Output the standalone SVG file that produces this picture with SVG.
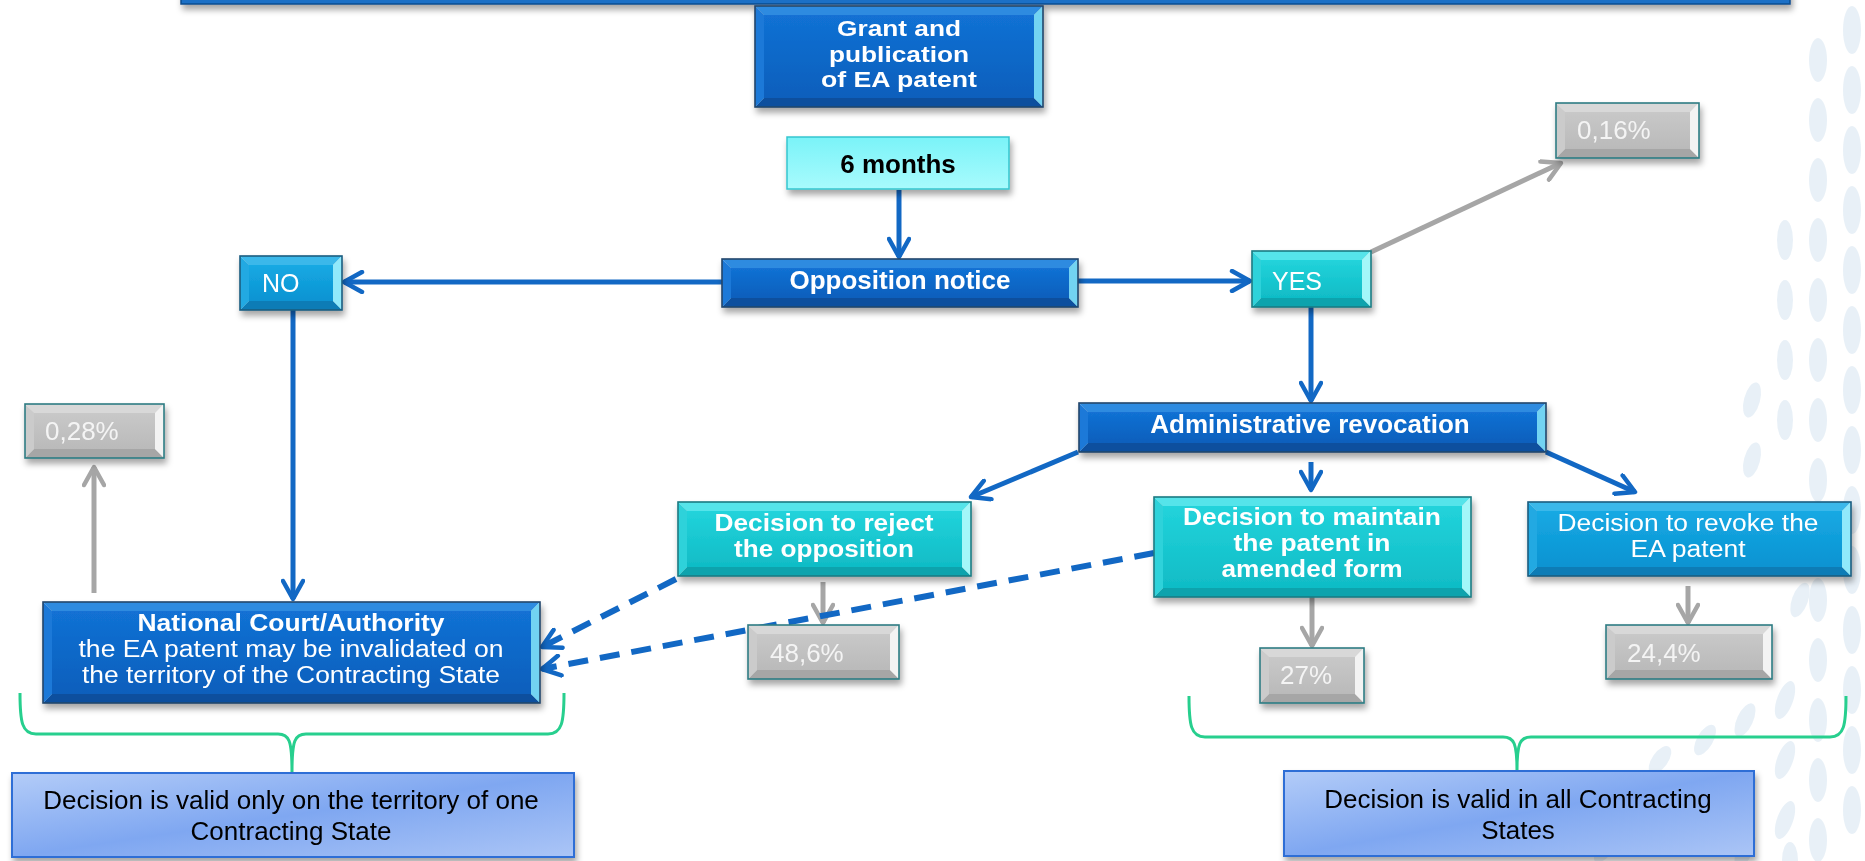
<svg xmlns="http://www.w3.org/2000/svg" width="1865" height="861" viewBox="0 0 1865 861">
<style>
text{font-family:"Liberation Sans",Arial,sans-serif;}
.w{fill:#ffffff;font-size:26px;}
.s{font-size:23px;}
.b{font-weight:bold;}
.pc{fill:#f4f4f4;font-size:26px;}
.blk{fill:#000000;font-size:26px;}
.mid{text-anchor:middle;}
.dark .t{fill:#2f8be0}.dark .bo{fill:#0a4f9e}.dark .l{fill:#1b79d8}.dark .r{fill:#72d3f2}.dark .f{fill:url(#gDark)}.dark .o{stroke:#23466b}
.med .t{fill:#3ab8ea}.med .bo{fill:#0a7cb6}.med .l{fill:#22a9e2}.med .r{fill:#90e9fb}.med .f{fill:url(#gMed)}.med .o{stroke:#1b5d80}
.cy .t{fill:#55e4ea}.cy .bo{fill:#0ea3ad}.cy .l{fill:#2dd2da}.cy .r{fill:#a3f7f9}.cy .f{fill:url(#gCy)}.cy .o{stroke:#1d7b83}
.gr .t{fill:#d8d8d8}.gr .bo{fill:#a6a6a6}.gr .l{fill:#cbcbcb}.gr .r{fill:#f3f3f3}.gr .f{fill:url(#gGr)}.gr .o{stroke:#2e7c84}
.o{fill:none;stroke-width:1.6;}
.node{filter:url(#sh);}
.cb{fill:none;stroke:#1268c4;stroke-width:5;marker-end:url(#ab);}
.cg{fill:none;stroke:#a6a6a6;stroke-width:5;marker-end:url(#ag);}
.cd{fill:none;stroke:#1268c4;stroke-width:6;stroke-dasharray:20 12;marker-end:url(#ab);}
.br{fill:none;stroke:#27cf8e;stroke-width:3;}
.deco ellipse{fill:#c9dcec;}
</style>
<defs>
<filter id="sh" x="-10%" y="-20%" width="125%" height="160%">
<feDropShadow dx="2" dy="5" stdDeviation="3" flood-color="#000" flood-opacity="0.35"/>
</filter>
<linearGradient id="gDark" x1="0" y1="0" x2="0" y2="1"><stop offset="0" stop-color="#1271d4"/><stop offset="1" stop-color="#0a5fbc"/></linearGradient>
<linearGradient id="gMed" x1="0" y1="0" x2="0" y2="1"><stop offset="0" stop-color="#16a9e3"/><stop offset="1" stop-color="#0b93d2"/></linearGradient>
<linearGradient id="gCy" x1="0" y1="0" x2="0" y2="1"><stop offset="0" stop-color="#22d3db"/><stop offset="1" stop-color="#10bcc6"/></linearGradient>
<linearGradient id="gGr" x1="0" y1="0" x2="0" y2="1"><stop offset="0" stop-color="#c8c8c8"/><stop offset="1" stop-color="#bababa"/></linearGradient>
<linearGradient id="gMon" x1="0" y1="0" x2="0" y2="1"><stop offset="0" stop-color="#7af3f8"/><stop offset="1" stop-color="#a8fbfd"/></linearGradient>
<linearGradient id="gBot" x1="0" y1="0" x2="1" y2="1"><stop offset="0" stop-color="#b3ccf8"/><stop offset="0.5" stop-color="#7fa7f1"/><stop offset="1" stop-color="#abc5f6"/></linearGradient>
<marker id="ab" viewBox="0 0 24 24" refX="21" refY="12" markerWidth="24" markerHeight="24" markerUnits="userSpaceOnUse" orient="auto"><path d="M3,2 L21,12 L3,22" fill="none" stroke="#1268c4" stroke-width="4.5" stroke-linecap="round" stroke-linejoin="round"/></marker>
<marker id="ag" viewBox="0 0 24 24" refX="21" refY="12" markerWidth="24" markerHeight="24" markerUnits="userSpaceOnUse" orient="auto"><path d="M3,2 L21,12 L3,22" fill="none" stroke="#a6a6a6" stroke-width="4.5" stroke-linecap="round" stroke-linejoin="round"/></marker>
</defs>
<rect width="1865" height="861" fill="#ffffff"/>
<g class="deco" opacity="0.42">
<ellipse cx="1852" cy="30" rx="9" ry="24"/><ellipse cx="1852" cy="90" rx="9" ry="24"/><ellipse cx="1852" cy="150" rx="9" ry="24"/><ellipse cx="1852" cy="210" rx="9" ry="24"/><ellipse cx="1852" cy="270" rx="9" ry="24"/><ellipse cx="1852" cy="330" rx="9" ry="24"/><ellipse cx="1852" cy="390" rx="9" ry="24"/><ellipse cx="1852" cy="450" rx="9" ry="24"/><ellipse cx="1852" cy="510" rx="9" ry="24"/><ellipse cx="1852" cy="570" rx="9" ry="24"/><ellipse cx="1852" cy="630" rx="9" ry="24"/><ellipse cx="1852" cy="690" rx="9" ry="24"/><ellipse cx="1852" cy="750" rx="9" ry="24"/><ellipse cx="1852" cy="810" rx="9" ry="24"/>
<ellipse cx="1818" cy="60" rx="9" ry="22"/><ellipse cx="1818" cy="120" rx="9" ry="22"/><ellipse cx="1818" cy="180" rx="9" ry="22"/><ellipse cx="1818" cy="240" rx="9" ry="22"/><ellipse cx="1818" cy="300" rx="9" ry="22"/><ellipse cx="1818" cy="360" rx="9" ry="22"/><ellipse cx="1818" cy="420" rx="9" ry="22"/><ellipse cx="1818" cy="480" rx="9" ry="22"/><ellipse cx="1818" cy="600" rx="9" ry="22"/><ellipse cx="1818" cy="660" rx="9" ry="22"/><ellipse cx="1818" cy="720" rx="9" ry="22"/><ellipse cx="1818" cy="780" rx="9" ry="22"/><ellipse cx="1818" cy="840" rx="9" ry="22"/>
<ellipse cx="1785" cy="240" rx="8" ry="20"/><ellipse cx="1785" cy="300" rx="8" ry="20"/><ellipse cx="1785" cy="360" rx="8" ry="20"/><ellipse cx="1785" cy="420" rx="8" ry="20"/><ellipse cx="1785" cy="700" rx="8" ry="20" transform="rotate(20 1785 700)"/><ellipse cx="1785" cy="760" rx="8" ry="20" transform="rotate(20 1785 760)"/><ellipse cx="1785" cy="820" rx="8" ry="20" transform="rotate(20 1785 820)"/>
<ellipse cx="1752" cy="400" rx="8" ry="18" transform="rotate(15 1752 400)"/><ellipse cx="1752" cy="460" rx="8" ry="18" transform="rotate(15 1752 460)"/><ellipse cx="1745" cy="720" rx="8" ry="18" transform="rotate(25 1745 720)"/><ellipse cx="1745" cy="790" rx="8" ry="18" transform="rotate(25 1745 790)"/><ellipse cx="1745" cy="850" rx="8" ry="18" transform="rotate(25 1745 850)"/>
<ellipse cx="1800" cy="600" rx="8" ry="18" transform="rotate(20 1800 600)"/><ellipse cx="1705" cy="740" rx="8" ry="17" transform="rotate(30 1705 740)"/><ellipse cx="1700" cy="810" rx="8" ry="17" transform="rotate(30 1700 810)"/><ellipse cx="1660" cy="760" rx="8" ry="16" transform="rotate(35 1660 760)"/><ellipse cx="1655" cy="830" rx="8" ry="16" transform="rotate(35 1655 830)"/><ellipse cx="1612" cy="790" rx="7" ry="15" transform="rotate(40 1612 790)"/><ellipse cx="1605" cy="850" rx="7" ry="15" transform="rotate(40 1605 850)"/><ellipse cx="1565" cy="820" rx="7" ry="14" transform="rotate(45 1565 820)"/><ellipse cx="1790" cy="860" rx="8" ry="18"/>
</g>
<g id="topbar" class="node"><rect x="181" y="-40" width="1609" height="44" fill="#1d6fc6" stroke="#0e4d8f" stroke-width="1.5"/></g>
<g id="connectors">
<path class="cb" d="M899,190 L899,257"/>
<path class="cb" d="M722,282 L344,282"/>
<path class="cb" d="M1078,281 L1250,281"/>
<path class="cg" d="M1371,252 L1561,163"/>
<path class="cb" d="M1311,307 L1311,401"/>
<path class="cb" d="M293,310 L293,599"/>
<path class="cg" d="M94,593 L94,467"/>
<path class="cb" d="M1078,452 L971,497"/>
<path class="cb" d="M1311,462 L1311,490"/>
<path class="cb" d="M1546,452 L1635,492"/>
<path class="cg" d="M823,582 L823,623"/>
<path class="cg" d="M1312,597 L1312,646"/>
<path class="cg" d="M1688,586 L1688,623"/>
<path class="cd" d="M676,579 L542,647"/>
<path class="cd" d="M1154,553 L542,669"/>
<path class="br" d="M20,693 C20,722 22,734 36,734 L278,734 C289,734 292,740 292,772 M564,693 C564,722 562,734 548,734 L306,734 C295,734 292,740 292,772"/>
<path class="br" d="M1189,696 C1189,725 1191,737 1205,737 L1503,737 C1514,737 1517,743 1517,771 M1846,696 C1846,725 1844,737 1830,737 L1531,737 C1520,737 1517,743 1517,771"/>
</g>
<g id="grant" class="node dark">
<polygon class="t" points="755,6 1043,6 1034,15 764,15"/><polygon class="bo" points="755,107 1043,107 1034,98 764,98"/><polygon class="l" points="755,6 764,15 764,98 755,107"/><polygon class="r" points="1043,6 1034,15 1034,98 1043,107"/><rect class="f" x="764" y="15" width="270" height="83"/><rect class="o" x="755" y="6" width="288" height="101"/>
<text class="w b mid" x="899" y="36" style="font-size:22px" textLength="124" lengthAdjust="spacingAndGlyphs">Grant and</text>
<text class="w b mid" x="899" y="62" style="font-size:22px" textLength="140" lengthAdjust="spacingAndGlyphs">publication</text>
<text class="w b mid" x="899" y="87" style="font-size:22px" textLength="156" lengthAdjust="spacingAndGlyphs">of EA patent</text>
</g>
<g id="months" class="node">
<rect x="787" y="137" width="222" height="52" fill="url(#gMon)" stroke="#35c6cf" stroke-width="1.5"/>
<text class="blk b mid" x="898" y="173">6 months</text>
</g>
<g id="opposition" class="node dark">
<polygon class="t" points="722,259 1078,259 1069,268 731,268"/><polygon class="bo" points="722,307 1078,307 1069,298 731,298"/><polygon class="l" points="722,259 731,268 731,298 722,307"/><polygon class="r" points="1078,259 1069,268 1069,298 1078,307"/><rect class="f" x="731" y="268" width="338" height="30"/><rect class="o" x="722" y="259" width="356" height="48"/>
<text class="w b mid" x="900" y="289">Opposition notice</text>
</g>
<g id="no" class="node med">
<polygon class="t" points="240,256 342,256 333,265 249,265"/><polygon class="bo" points="240,310 342,310 333,301 249,301"/><polygon class="l" points="240,256 249,265 249,301 240,310"/><polygon class="r" points="342,256 333,265 333,301 342,310"/><rect class="f" x="249" y="265" width="84" height="36"/><rect class="o" x="240" y="256" width="102" height="54"/>
<text class="w" x="262" y="292" style="font-size:25px">NO</text>
</g>
<g id="yes" class="node cy">
<polygon class="t" points="1252,251 1371,251 1362,260 1261,260"/><polygon class="bo" points="1252,307 1371,307 1362,298 1261,298"/><polygon class="l" points="1252,251 1261,260 1261,298 1252,307"/><polygon class="r" points="1371,251 1362,260 1362,298 1371,307"/><rect class="f" x="1261" y="260" width="101" height="38"/><rect class="o" x="1252" y="251" width="119" height="56"/>
<text class="w" x="1272" y="290" style="font-size:25px">YES</text>
</g>
<g id="p016" class="node gr">
<polygon class="t" points="1556,103 1699,103 1690,112 1565,112"/><polygon class="bo" points="1556,158 1699,158 1690,149 1565,149"/><polygon class="l" points="1556,103 1565,112 1565,149 1556,158"/><polygon class="r" points="1699,103 1690,112 1690,149 1699,158"/><rect class="f" x="1565" y="112" width="125" height="37"/><rect class="o" x="1556" y="103" width="143" height="55"/>
<text class="pc" x="1577" y="139">0,16%</text>
</g>
<g id="admin" class="node dark">
<polygon class="t" points="1079,403 1546,403 1537,412 1088,412"/><polygon class="bo" points="1079,452 1546,452 1537,443 1088,443"/><polygon class="l" points="1079,403 1088,412 1088,443 1079,452"/><polygon class="r" points="1546,403 1537,412 1537,443 1546,452"/><rect class="f" x="1088" y="412" width="449" height="31"/><rect class="o" x="1079" y="403" width="467" height="49"/>
<text class="w b mid" x="1310" y="433">Administrative revocation</text>
</g>
<g id="reject" class="node cy">
<polygon class="t" points="678,502 971,502 962,511 687,511"/><polygon class="bo" points="678,576 971,576 962,567 687,567"/><polygon class="l" points="678,502 687,511 687,567 678,576"/><polygon class="r" points="971,502 962,511 962,567 971,576"/><rect class="f" x="687" y="511" width="275" height="56"/><rect class="o" x="678" y="502" width="293" height="74"/>
<text class="w s b mid" x="824" y="531" textLength="219" lengthAdjust="spacingAndGlyphs">Decision to reject</text>
<text class="w s b mid" x="824" y="557" textLength="180" lengthAdjust="spacingAndGlyphs">the opposition</text>
</g>
<g id="maintain" class="node cy">
<polygon class="t" points="1154,497 1471,497 1462,506 1163,506"/><polygon class="bo" points="1154,597 1471,597 1462,588 1163,588"/><polygon class="l" points="1154,497 1163,506 1163,588 1154,597"/><polygon class="r" points="1471,497 1462,506 1462,588 1471,597"/><rect class="f" x="1163" y="506" width="299" height="82"/><rect class="o" x="1154" y="497" width="317" height="100"/>
<text class="w s b mid" x="1312" y="525" textLength="258" lengthAdjust="spacingAndGlyphs">Decision to maintain</text>
<text class="w s b mid" x="1312" y="551" textLength="157" lengthAdjust="spacingAndGlyphs">the patent in</text>
<text class="w s b mid" x="1312" y="577" textLength="181" lengthAdjust="spacingAndGlyphs">amended form</text>
</g>
<g id="revoke" class="node med">
<polygon class="t" points="1528,502 1851,502 1842,511 1537,511"/><polygon class="bo" points="1528,576 1851,576 1842,567 1537,567"/><polygon class="l" points="1528,502 1537,511 1537,567 1528,576"/><polygon class="r" points="1851,502 1842,511 1842,567 1851,576"/><rect class="f" x="1537" y="511" width="305" height="56"/><rect class="o" x="1528" y="502" width="323" height="74"/>
<text class="w s mid" x="1688" y="531" textLength="261" lengthAdjust="spacingAndGlyphs">Decision to revoke the</text>
<text class="w s mid" x="1688" y="557" textLength="115" lengthAdjust="spacingAndGlyphs">EA patent</text>
</g>
<g id="p486" class="node gr">
<polygon class="t" points="748,625 899,625 890,634 757,634"/><polygon class="bo" points="748,679 899,679 890,670 757,670"/><polygon class="l" points="748,625 757,634 757,670 748,679"/><polygon class="r" points="899,625 890,634 890,670 899,679"/><rect class="f" x="757" y="634" width="133" height="36"/><rect class="o" x="748" y="625" width="151" height="54"/>
<text class="pc" x="770" y="662">48,6%</text>
</g>
<g id="p27" class="node gr">
<polygon class="t" points="1260,648 1364,648 1355,657 1269,657"/><polygon class="bo" points="1260,703 1364,703 1355,694 1269,694"/><polygon class="l" points="1260,648 1269,657 1269,694 1260,703"/><polygon class="r" points="1364,648 1355,657 1355,694 1364,703"/><rect class="f" x="1269" y="657" width="86" height="37"/><rect class="o" x="1260" y="648" width="104" height="55"/>
<text class="pc" x="1280" y="684">27%</text>
</g>
<g id="p244" class="node gr">
<polygon class="t" points="1606,625 1772,625 1763,634 1615,634"/><polygon class="bo" points="1606,679 1772,679 1763,670 1615,670"/><polygon class="l" points="1606,625 1615,634 1615,670 1606,679"/><polygon class="r" points="1772,625 1763,634 1763,670 1772,679"/><rect class="f" x="1615" y="634" width="148" height="36"/><rect class="o" x="1606" y="625" width="166" height="54"/>
<text class="pc" x="1627" y="662">24,4%</text>
</g>
<g id="p028" class="node gr">
<polygon class="t" points="25,404 164,404 155,413 34,413"/><polygon class="bo" points="25,458 164,458 155,449 34,449"/><polygon class="l" points="25,404 34,413 34,449 25,458"/><polygon class="r" points="164,404 155,413 155,449 164,458"/><rect class="f" x="34" y="413" width="121" height="36"/><rect class="o" x="25" y="404" width="139" height="54"/>
<text class="pc" x="45" y="440">0,28%</text>
</g>
<g id="national" class="node dark">
<polygon class="t" points="43,602 540,602 531,611 52,611"/><polygon class="bo" points="43,703 540,703 531,694 52,694"/><polygon class="l" points="43,602 52,611 52,694 43,703"/><polygon class="r" points="540,602 531,611 531,694 540,703"/><rect class="f" x="52" y="611" width="479" height="83"/><rect class="o" x="43" y="602" width="497" height="101"/>
<text class="w s b mid" x="291" y="631" textLength="307" lengthAdjust="spacingAndGlyphs">National Court/Authority</text>
<text class="w s mid" x="291" y="657" textLength="425" lengthAdjust="spacingAndGlyphs">the EA patent may be invalidated on</text>
<text class="w s mid" x="291" y="683" textLength="418" lengthAdjust="spacingAndGlyphs">the territory of the Contracting State</text>
</g>
<g id="validOne" class="node">
<rect x="12" y="773" width="562" height="84" fill="url(#gBot)" stroke="#2e6ed6" stroke-width="2"/>
<text class="blk mid" x="291" y="809">Decision is valid only on the territory of one</text>
<text class="blk mid" x="291" y="840">Contracting State</text>
</g>
<g id="validAll" class="node">
<rect x="1284" y="771" width="470" height="85" fill="url(#gBot)" stroke="#2e6ed6" stroke-width="2"/>
<text class="blk mid" x="1518" y="808">Decision is valid in all Contracting</text>
<text class="blk mid" x="1518" y="839">States</text>
</g>
</svg>
